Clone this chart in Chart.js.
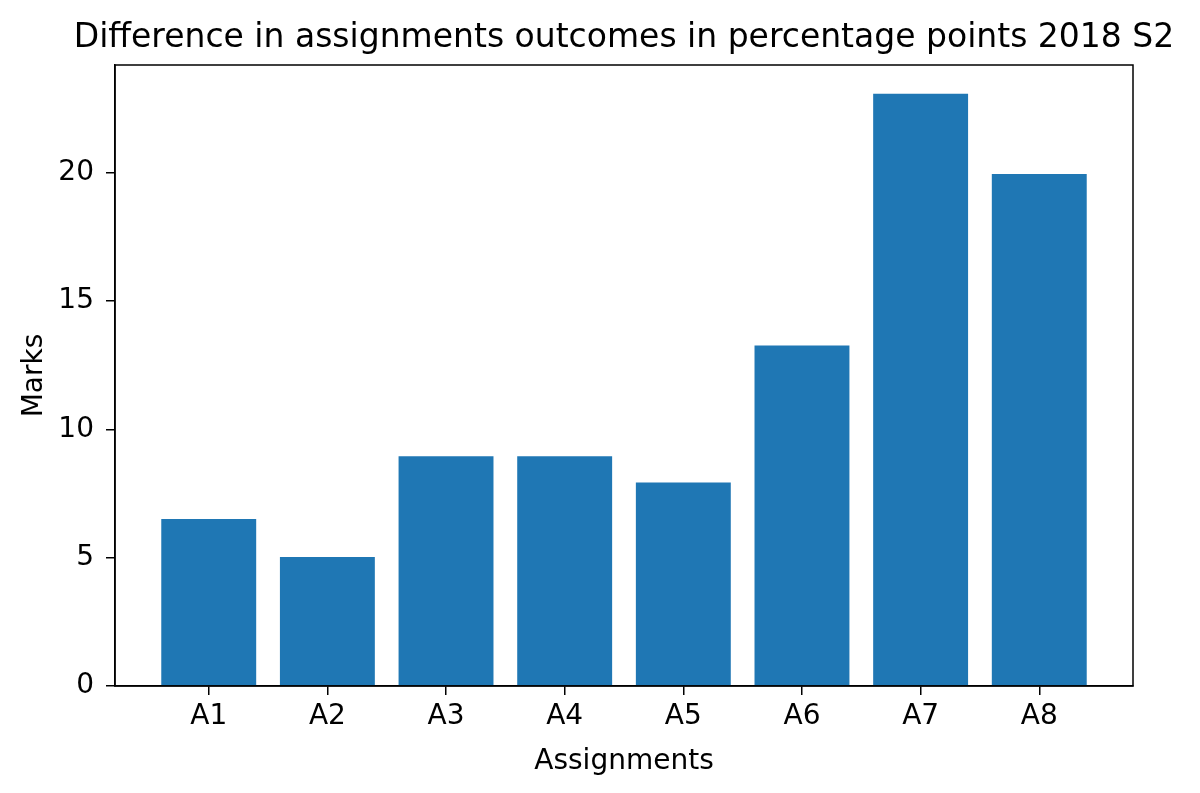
<!DOCTYPE html>
<html>
<head>
    <title>Assignments Difference</title>
    <script src="https://cdn.jsdelivr.net/npm/chart.js"></script>
    <style>
        body { margin: 0; background: #fff; }
        canvas { display: block; }
    </style>
</head>
<body>
    <canvas id="figure" width="1200" height="793"></canvas>

    <script>
        // data
        var categories = ['A1', 'A2', 'A3', 'A4', 'A5', 'A6', 'A7', 'A8'];
        var marks = [6.51, 5.03, 8.95, 8.95, 7.93, 13.27, 23.08, 19.95];
        var yTicks = [0, 5, 10, 15, 20];

        var chartTitle = 'Difference in assignments outcomes in percentage points 2018 S2';
        var fontFamily = '"DejaVu Sans", sans-serif';

        var points = marks.map(function (v, i) { return { x: i, y: v }; });

        // matplotlib style: four spines and a title centred over the axes
        var framePlugin = {
            id: 'frame',
            afterDraw: function (chart) {
                var ctx = chart.ctx;
                var a = chart.chartArea;
                ctx.save();
                ctx.strokeStyle = '#000';
                ctx.lineWidth = 1.5;
                ctx.strokeRect(a.left, a.top, a.right - a.left, a.bottom - a.top);
                ctx.fillStyle = '#000';
                ctx.font = '33px ' + fontFamily;
                ctx.textAlign = 'center';
                ctx.textBaseline = 'middle';
                ctx.fillText(chartTitle, (a.left + a.right) / 2, 38);
                ctx.restore();
            }
        };

        var ctx = document.getElementById('figure').getContext('2d');
        new Chart(ctx, {
            type: 'bar',
            data: {
                datasets: [{
                    label: 'Marks',
                    data: points,
                    backgroundColor: '#1f77b4',
                    borderWidth: 0,
                    barPercentage: 0.8,
                    categoryPercentage: 1.0
                }]
            },
            options: {
                responsive: false,
                animation: false,
                layout: { padding: { top: 65, right: 67, left: 0, bottom: 0 } },
                plugins: {
                    legend: { display: false },
                    tooltip: { enabled: false },
                    title: { display: false }
                },
                scales: {
                    x: {
                        type: 'linear',
                        position: 'bottom',
                        min: -0.79,
                        max: 7.79,
                        offset: false,
                        afterBuildTicks: function (scale) {
                            scale.ticks = categories.map(function (c, i) { return { value: i }; });
                        },
                        afterFit: function (scale) { scale.height = 107; },
                        ticks: {
                            color: '#000',
                            font: { family: fontFamily, size: 28 },
                            padding: 5,
                            maxRotation: 0,
                            autoSkip: false,
                            callback: function (value) { return categories[value]; }
                        },
                        grid: {
                            offset: false,
                            drawOnChartArea: false,
                            drawTicks: true,
                            tickLength: 9,
                            color: '#000',
                            lineWidth: 1.5
                        },
                        border: { display: true, color: '#000', width: 1.5 },
                        title: {
                            display: true,
                            text: 'Assignments',
                            color: '#000',
                            font: { family: fontFamily, size: 28 },
                            padding: { top: 0, bottom: 14 }
                        }
                    },
                    y: {
                        type: 'linear',
                        position: 'left',
                        min: 0,
                        max: 24.2,
                        afterBuildTicks: function (scale) {
                            scale.ticks = yTicks.map(function (v) { return { value: v }; });
                        },
                        afterFit: function (scale) { scale.width = 115; },
                        ticks: {
                            color: '#000',
                            font: { family: fontFamily, size: 28 },
                            padding: 12
                        },
                        grid: {
                            drawOnChartArea: false,
                            drawTicks: true,
                            tickLength: 9,
                            color: '#000',
                            lineWidth: 1.5
                        },
                        border: { display: true, color: '#000', width: 1.5 },
                        title: {
                            display: true,
                            text: 'Marks',
                            color: '#000',
                            font: { family: fontFamily, size: 28 },
                            padding: { top: 18, bottom: 0 }
                        }
                    }
                }
            },
            plugins: [framePlugin]
        });
    </script>
</body>
</html>
